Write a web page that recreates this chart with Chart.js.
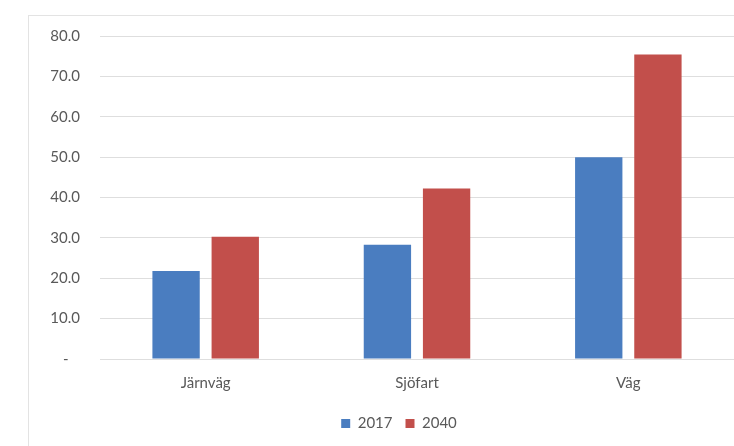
<!DOCTYPE html>
<html>
<head>
<meta charset="utf-8">
<script src="https://cdn.jsdelivr.net/npm/chart.js@4/dist/chart.umd.min.js"></script>
<style>
  html, body { margin: 0; padding: 0; background: #fff; }
  #wrap { position: relative; width: 734px; height: 446px; overflow: hidden; }
  #frame { position: absolute; left: 28px; top: 15px; width: 760px; height: 480px; border: 1px solid #e3e3e3; }
  canvas { position: absolute; left: 0; top: 0; }
</style>
</head>
<body>
<div id="wrap">
  <div id="frame"></div>
  <canvas id="mycanvas" width="734" height="446"></canvas>
</div>
<script>
var kategorier = ['Järnväg', 'Sjöfart', 'Väg'];
var varden2017 = [21.8, 28.3, 50.0];
var varden2040 = [30.3, 42.2, 75.4];
var yTicks = [0, 10, 20, 30, 40, 50, 60, 70, 80];

var textColor = '#595959';
var font = { family: 'Lato, "Open Sans", sans-serif', size: 15 };

// legend sits a bit right of centre in the original
var legendShift = {
    id: 'legendShift',
    afterLayout: function (chart) {
        chart.legend.left += 22;
        chart.legend.right += 22;
    }
};

var chartdata = {
    labels: kategorier,
    datasets: [{
        label: '2017',
        data: varden2017,
        backgroundColor: '#4a7dc0',
        categoryPercentage: 0.56,
        barPercentage: 0.8
    }, {
        label: '2040',
        data: varden2040,
        backgroundColor: '#c24f4b',
        categoryPercentage: 0.56,
        barPercentage: 0.8
    }]
};

var ctx = document.getElementById('mycanvas');

var barGraph = new Chart(ctx, {
    type: 'bar',
    data: chartdata,
    plugins: [legendShift],
    options: {
        responsive: false,
        animation: false,
        layout: { padding: { left: 20, top: 36, right: 0, bottom: 5 } },
        plugins: {
            tooltip: { enabled: false },
            legend: {
                position: 'bottom',
                labels: {
                    color: textColor,
                    font: font,
                    boxWidth: 9,
                    boxHeight: 9,
                    padding: 13
                }
            }
        },
        scales: {
            x: {
                afterFit: function (scale) { scale.height += 4; },
                grid: { display: false },
                border: { display: false },
                ticks: { color: textColor, font: font, padding: 7 }
            },
            y: {
                min: 0,
                max: 80,
                afterFit: function (scale) { scale.width = 80; },
                afterBuildTicks: function (scale) {
                    scale.ticks = yTicks.map(function (v) { return { value: v }; });
                },
                grid: { color: '#dedede', drawTicks: false },
                border: { display: false },
                ticks: {
                    color: textColor,
                    font: font,
                    padding: 20,
                    callback: function (v) { return v === 0 ? '-   ' : v.toFixed(1); }
                }
            }
        }
    }
});
</script>
</body>
</html>
